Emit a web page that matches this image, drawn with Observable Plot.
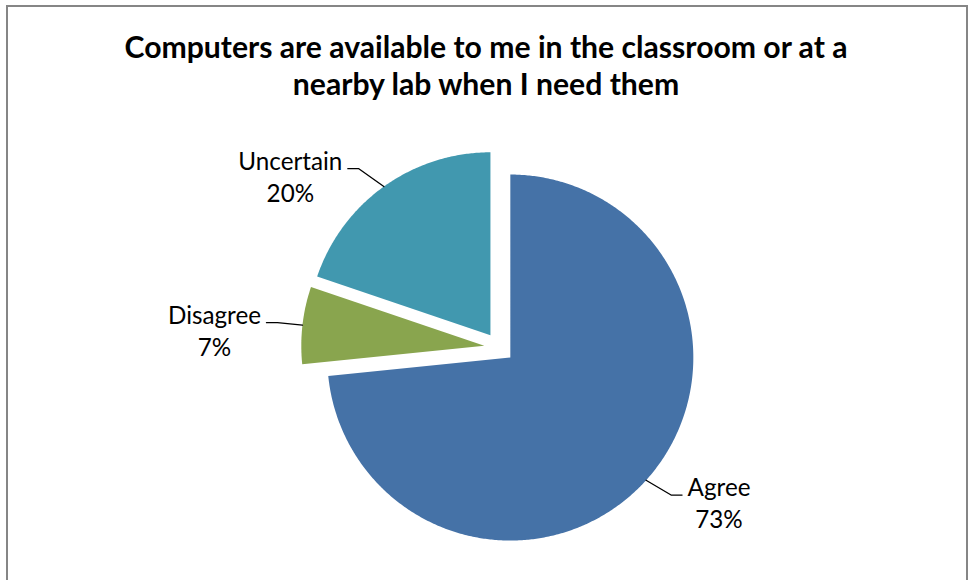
<!DOCTYPE html>
<html><head><meta charset="utf-8">
<script src="https://cdn.jsdelivr.net/npm/d3@7"></script>
<script src="https://cdn.jsdelivr.net/npm/@observablehq/plot@0.6"></script>
<style>
html,body{margin:0;padding:0;background:#fff;}
#wrap{position:relative;width:969px;height:580px;overflow:hidden;}
#border{position:absolute;left:6px;top:5px;width:962px;height:620px;border:2px solid #868686;box-sizing:border-box;pointer-events:none;}
#chart{position:absolute;left:0;top:0;}
</style></head><body>
<div id="wrap"><div id="chart"></div><div id="border"></div></div>
<script>
// ---- data ----
const titleLines = ["Computers are available to me in the classroom or at a", "nearby lab when I need them"];
const categories = ["Agree", "Disagree", "Uncertain"];
const percents = [73.4, 6.8, 19.8];
const colors = ["#4572A7", "#89A54E", "#4198AF"];

// ---- layout ----
const W = 969, H = 580;
const cx = 498.7, cy = 347, R = 183, explode = 15;
const FONT = "Lato, 'Open Sans', sans-serif";
const ctx = document.createElement("canvas").getContext("2d");
function measure(text, weight, size) { ctx.font = `${weight} ${size}px Lato`; return ctx.measureText(text).width; }
const labelSize = 24 * 104 / measure("Uncertain", "normal", 24);
const titleSize = 30 * 724 / measure(titleLines[0], "bold", 30);
const labelLH = 32 / labelSize;
const titleLH = 38 / titleSize;

const total = d3.sum(percents);
let cum = 0;
const slices = categories.map((c, i) => {
  const a0 = cum / total * 2 * Math.PI; cum += percents[i];
  const a1 = cum / total * 2 * Math.PI;
  const mid = (a0 + a1) / 2;
  const ox = cx + explode * Math.sin(mid), oy = cy - explode * Math.cos(mid);
  const pts = [{x: ox, y: oy}];
  const n = Math.max(4, Math.ceil((a1 - a0) / (Math.PI / 360)));
  for (let k = 0; k <= n; ++k) {
    const a = a0 + (a1 - a0) * k / n;
    pts.push({x: ox + R * Math.sin(a), y: oy - R * Math.cos(a)});
  }
  pts.push({x: ox, y: oy});
  const dx = Math.sin(mid), dy = -Math.cos(mid);
  const side = dx >= 0 ? 1 : -1;
  const P = {x: ox + R * dx, y: oy + R * dy};
  const Hp = {x: P.x + side * 36, y: P.y + 22 * dy};
  const E = {x: Hp.x - side * 11, y: Hp.y};
  const text = `${c}\n${Math.round(percents[i])}%`;
  const w = Math.max(measure(c, "normal", labelSize), measure(`${Math.round(percents[i])}%`, "normal", labelSize));
  const label = {x: Hp.x + side * (5.5 + w / 2), y: Hp.y + 1 - 0.71 * labelLH * labelSize, text};
  return {c, color: colors[i], pts, leader: [P, E, Hp], label};
});

const marks = [];
for (const s of slices) marks.push(Plot.line(s.pts, {x: "x", y: "y", fill: s.color, stroke: "none", curve: "linear"}));
for (const s of slices) marks.push(Plot.line(s.leader, {x: "x", y: "y", stroke: "#000", strokeWidth: 1.3}));
marks.push(Plot.text(slices.map(s => s.label), {x: "x", y: "y", text: "text", textAnchor: "middle", lineAnchor: "top", lineHeight: labelLH, fontSize: labelSize, fill: "#000"}));
marks.push(Plot.text([titleLines.join("\n")], {frameAnchor: "top", dy: 57 - 0.71 * titleLH * titleSize, dx: 1, lineAnchor: "top", lineHeight: titleLH, fontSize: titleSize, fontWeight: "bold", fill: "#000"}));

const chart = Plot.plot({
  width: W, height: H, margin: 0,
  x: {domain: [0, W], range: [0, W], axis: null},
  y: {domain: [0, H], range: [0, H], axis: null},
  style: {background: "none", fontFamily: FONT, overflow: "visible"},
  marks
});
document.getElementById("chart").appendChild(chart);
</script>
</body></html>
